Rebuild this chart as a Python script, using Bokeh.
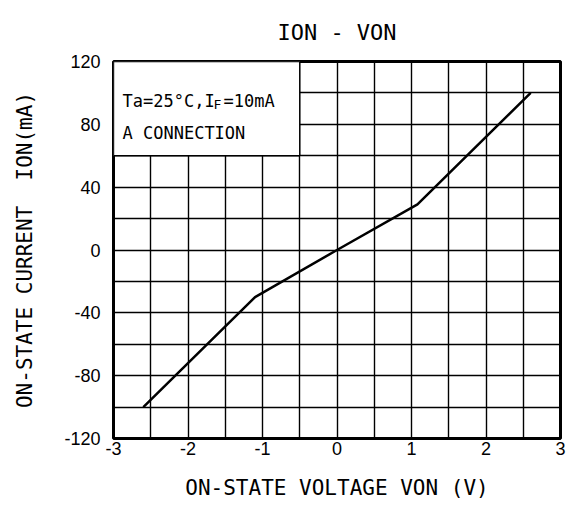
from bokeh.plotting import figure
from bokeh.models import Range1d, FixedTicker, Label
from bokeh.embed import file_html
from bokeh.resources import INLINE

# ---- data ----
von = [-2.6, -1.1, 0.0, 1.08, 2.6]      # V
ion = [-100, -30, 0, 29, 100]           # mA
x_ticks = [-3, -2, -1, 0, 1, 2, 3]
y_ticks = [-120, -80, -40, 0, 40, 80, 120]
x_grid = [-2.5, -2, -1.5, -1, -0.5, 0, 0.5, 1, 1.5, 2, 2.5]
y_grid = [-100, -80, -60, -40, -20, 0, 20, 40, 60, 80, 100]
title_text = "ION - VON"
x_label = "ON-STATE VOLTAGE VON (V)"
y_label = "ON-STATE CURRENT \u00a0ION(mA)"

W, H = 572, 508
FL, FR, FT, FB = 113, 560, 60, 438
X0, X1, Y0, Y1 = -3, 3, -120, 120

p = figure(width=W, height=H, output_backend="svg", toolbar_location=None,
           x_range=Range1d(X0, X1), y_range=Range1d(Y0, Y1),
           min_border_left=FL, min_border_right=W - FR,
           min_border_top=FT, min_border_bottom=H - FB)
p.background_fill_color = "white"
p.border_fill_color = "white"
p.outline_line_color = "black"
p.outline_line_width = 3
p.outline_line_alpha = 1.0

TICK_FONT = "Liberation Sans"
MONO = "DejaVu Sans Mono"

p.title.text = title_text
p.title.align = "center"
p.title.offset = 5
p.title.text_font = MONO
p.title.text_font_size = "22px"
p.title.text_font_style = "normal"
p.title.text_color = "black"
p.title.standoff = 34

p.xaxis.ticker = FixedTicker(ticks=x_ticks)
p.yaxis.ticker = FixedTicker(ticks=y_ticks)
p.xaxis.major_label_overrides = {t: str(t) for t in x_ticks}
p.yaxis.major_label_overrides = {t: str(t) for t in y_ticks}
for ax in (p.xaxis, p.yaxis):
    ax.axis_line_color = None
    ax.major_tick_line_color = None
    ax.minor_tick_line_color = None
    ax.major_tick_in = 0
    ax.major_tick_out = 0
    ax.major_label_text_font = TICK_FONT
    ax.major_label_text_font_size = "18px"
    ax.major_label_text_color = "black"
    ax.axis_label_text_font = MONO
    ax.axis_label_text_font_size = "21px"
    ax.axis_label_text_font_style = "normal"
    ax.axis_label_text_color = "black"
p.xaxis.major_label_standoff = 3
p.yaxis.major_label_standoff = 13
p.xaxis.axis_label = x_label
p.yaxis.axis_label = y_label
p.xaxis.axis_label_standoff = 18
p.yaxis.axis_label_standoff = 24

p.xgrid.ticker = FixedTicker(ticks=x_grid)
p.ygrid.ticker = FixedTicker(ticks=y_grid)
for g in (p.xgrid, p.ygrid):
    g.grid_line_color = "black"
    g.grid_line_width = 1.4
    g.grid_line_alpha = 1.0

# white condition box in the top-left corner
p.quad(left=[-3], right=[-0.5], bottom=[60], top=[120],
       fill_color="white", line_color="black", line_width=1.4)

p.line(von, ion, line_color="black", line_width=2.5)


def sx(px):
    return X0 + (px - FL) * (X1 - X0) / (FR - FL)


def sy(py):
    return Y1 - (py - FT) * (Y1 - Y0) / (FB - FT)


def lab(text, px, py, size, font=MONO):
    p.add_layout(Label(x=sx(px), y=sy(py), text=text, text_font=font,
                       text_font_size=size, text_color="black",
                       text_align="left", text_baseline="alphabetic"))


# conditions text
lab("Ta=25°C,", 122, 100, "17px")
lab("I", 204, 100, "17px")
lab("F", 213, 103, "13px")
lab("=10mA", 223, 100, "17px")
lab("A CONNECTION", 122, 132, "17px")

open("out.html", "w").write(file_html(p, INLINE))
